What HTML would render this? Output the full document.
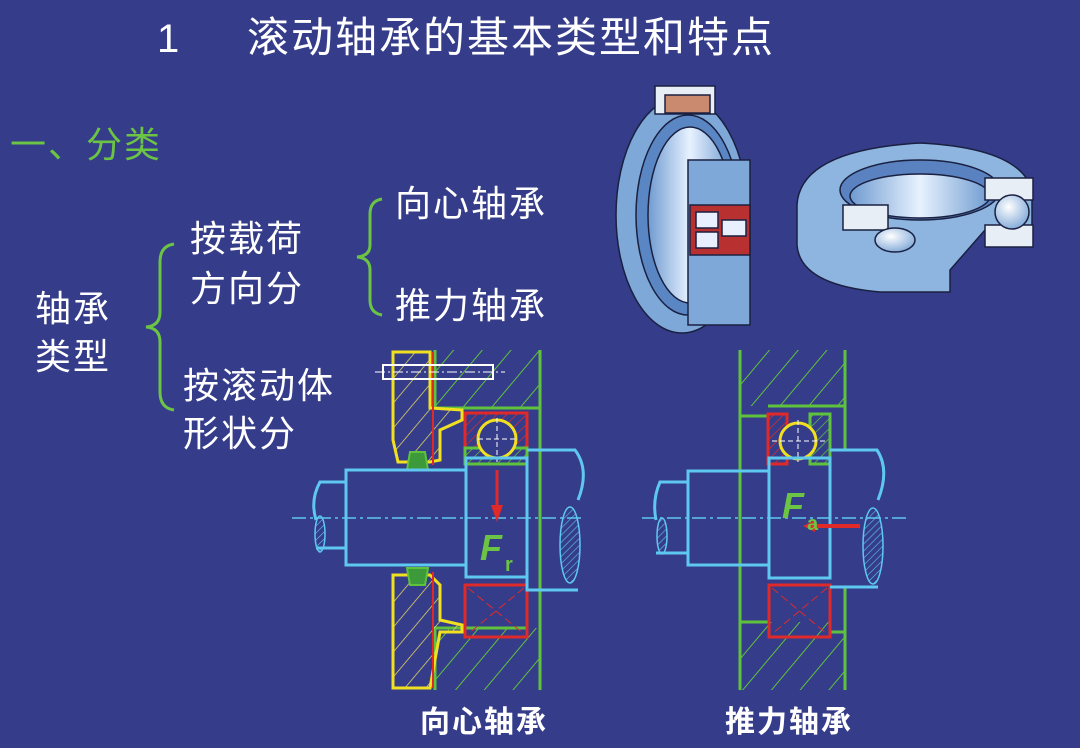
<!DOCTYPE html>
<html><head><meta charset="utf-8"><style>
html,body{margin:0;padding:0;}
body{width:1080px;height:748px;background:#353c8a;overflow:hidden;}
svg{display:block}
text{font-family:"Liberation Sans","Noto Sans CJK SC",sans-serif;}
</style></head><body>
<svg width="1080" height="748" viewBox="0 0 1080 748" xmlns="http://www.w3.org/2000/svg">
<defs>
<pattern id="hg" patternUnits="userSpaceOnUse" width="22" height="22" patternTransform="rotate(40)"><line x1="0" y1="0" x2="0" y2="22" stroke="#5ec23c" stroke-width="2"/></pattern>
<pattern id="hy" patternUnits="userSpaceOnUse" width="16" height="16" patternTransform="rotate(40)"><line x1="0" y1="0" x2="0" y2="16" stroke="#e6dc60" stroke-width="1.5"/></pattern>
<pattern id="hr" patternUnits="userSpaceOnUse" width="7" height="7" patternTransform="rotate(45)"><line x1="0" y1="0" x2="0" y2="7" stroke="#e02a2a" stroke-width="1.5"/></pattern>
<pattern id="hgs" patternUnits="userSpaceOnUse" width="7" height="7" patternTransform="rotate(45)"><line x1="0" y1="0" x2="0" y2="7" stroke="#5ec23c" stroke-width="1.5"/></pattern>
<pattern id="hb" patternUnits="userSpaceOnUse" width="5" height="5" patternTransform="rotate(45)"><line x1="0" y1="0" x2="0" y2="5" stroke="#5fc8f0" stroke-width="1.2"/></pattern>
<radialGradient id="ball" cx="0.4" cy="0.35" r="0.7"><stop offset="0" stop-color="#fff"/><stop offset="1" stop-color="#7fa8d8"/></radialGradient>
<linearGradient id="ring" x1="0" x2="1"><stop offset="0" stop-color="#6f9bd0"/><stop offset="0.5" stop-color="#e8f2ff"/><stop offset="1" stop-color="#6f9bd0"/></linearGradient>
</defs>

<text x="157" y="52" font-family="Liberation Serif" font-size="40" fill="#fff">1</text>
<text x="247" y="52" font-size="42" fill="#fff" letter-spacing="2">滚动轴承的基本类型和特点</text>
<text x="10" y="157" font-size="36" fill="#6cc444" letter-spacing="2">一、分类</text>

<g font-size="36" fill="#fff" letter-spacing="2">
<text x="190" y="251">按载荷</text>
<text x="190" y="301">方向分</text>
<text x="35" y="321">轴承</text>
<text x="35" y="369">类型</text>
<text x="183" y="398">按滚动体</text>
<text x="183" y="446">形状分</text>
<text x="395" y="216">向心轴承</text>
<text x="395" y="318">推力轴承</text>
</g>
<path d="M174 244 Q160 246 160 262 L160 312 Q160 326 146 327 Q160 328 160 342 L160 392 Q160 408 174 410" fill="none" stroke="#6cc444" stroke-width="3"/>
<path d="M382 199 Q370 201 370 214 L370 245 Q370 256 357 257 Q370 258 370 270 L370 300 Q370 313 382 315" fill="none" stroke="#6cc444" stroke-width="3"/>

<g stroke="#1a2040" stroke-width="1.5">
<ellipse cx="682" cy="215" rx="66" ry="118" fill="#7ea8d8"/>
<ellipse cx="688" cy="215" rx="52" ry="100" fill="#5b86c4"/>
<ellipse cx="690" cy="215" rx="42" ry="88" fill="url(#ring)"/>
<rect x="688" y="160" width="62" height="165" fill="#7ea8d8"/>
<rect x="690" y="205" width="60" height="50" fill="#b83030"/>
<rect x="696" y="212" width="22" height="16" fill="#e8f0ff"/>
<rect x="722" y="220" width="24" height="16" fill="#e8f0ff"/>
<rect x="696" y="232" width="22" height="16" fill="#e8f0ff"/>
<rect x="655" y="86" width="60" height="28" fill="#e8eef6"/>
<rect x="665" y="95" width="45" height="18" fill="#c98a70"/>
</g>
<g stroke="#1a2040" stroke-width="1.5">
<path d="M797 245 L797 205 Q800 150 920 143 Q1020 148 1032 190 L1032 230 L985 230 L950 270 L950 292 L880 292 Q800 285 797 245Z" fill="#8db5e0"/>
<ellipse cx="920" cy="190" rx="80" ry="30" fill="#5a82c0"/>
<ellipse cx="920" cy="196" rx="70" ry="22" fill="url(#ring)"/>
<rect x="985" y="178" width="48" height="22" fill="#e8eef6"/>
<rect x="985" y="225" width="48" height="22" fill="#e8eef6"/>
<circle cx="1012" cy="212" r="17" fill="url(#ball)"/>
<rect x="843" y="205" width="45" height="25" fill="#e8eef6"/>
<ellipse cx="895" cy="240" rx="20" ry="12" fill="url(#ball)"/>
</g>

<g fill="none">
<rect x="435" y="350" width="105" height="58" fill="url(#hg)"/>
<rect x="435" y="628" width="105" height="62" fill="url(#hg)"/>
<path d="M435 350 L435 408 L540 408 M540 350 L540 690 M435 690 L435 628 L527 628" stroke="#5ec23c" stroke-width="3"/>
<path d="M393 352 L430 352 L430 408 L462 410 L462 420 L440 430 L440 460 L430 462 L398 462 L393 440Z" fill="url(#hy)" stroke="#f0e020" stroke-width="3"/>
<path d="M393 575 L430 575 L440 585 L440 620 L462 625 L462 632 L440 632 L430 688 L393 688Z" fill="url(#hy)" stroke="#f0e020" stroke-width="3"/>
<path d="M433 352 L433 465 M433 572 L433 688" stroke="#e02a2a" stroke-width="2"/>
<path d="M410 452 L425 452 L428 470 L407 470Z" fill="#3c9a3a" stroke="#5ec23c" stroke-width="2"/>
<path d="M407 568 L428 568 L425 585 L410 585Z" fill="#3c9a3a" stroke="#5ec23c" stroke-width="2"/>
<rect x="383" y="365" width="110" height="14" stroke="#fff" stroke-width="2"/>
<line x1="375" y1="372" x2="505" y2="372" stroke="#fff" stroke-dasharray="10 3 2 3"/>
<rect x="465" y="413" width="62" height="35" fill="url(#hr)" stroke="#e02a2a" stroke-width="3"/>
<rect x="465" y="448" width="62" height="16" fill="url(#hgs)" stroke="#5ec23c" stroke-width="3"/>
<circle cx="497" cy="439" r="19" fill="#353c8a" stroke="#f0e020" stroke-width="3"/>
<path d="M478 439 L516 439 M497 418 L497 462" stroke="#fff" stroke-dasharray="5 3"/>
<rect x="465" y="585" width="62" height="52" stroke="#e02a2a" stroke-width="3"/>
<path d="M468 588 L524 634 M524 588 L468 634" stroke="#e02a2a" stroke-dasharray="8 4"/>
<path d="M345 482 L320 482 Q310 500 316 520 M316 548 L345 548" stroke="#5fc8f0" stroke-width="3"/>
<ellipse cx="320" cy="534" rx="5" ry="18" fill="url(#hb)" stroke="#5fc8f0" stroke-width="1.5"/>
<rect x="346" y="470" width="120" height="95" stroke="#5fc8f0" stroke-width="3"/>
<rect x="466" y="458" width="61" height="119" stroke="#5fc8f0" stroke-width="3"/>
<path d="M527 450 L575 450 Q590 470 578 500 M578 590 L527 590 L527 577" stroke="#5fc8f0" stroke-width="3"/>
<ellipse cx="570" cy="545" rx="10" ry="38" fill="url(#hb)" stroke="#5fc8f0" stroke-width="1.5"/>
<line x1="292" y1="518" x2="585" y2="518" stroke="#5fc8f0" stroke-width="1.5" stroke-dasharray="14 4 3 4"/>
<line x1="497" y1="470" x2="497" y2="510" stroke="#e02a2a" stroke-width="3"/>
<path d="M491 505 L503 505 L497 522Z" fill="#e02a2a"/>
</g>
<text x="480" y="560" font-family="Liberation Serif" font-style="italic" font-weight="bold" font-size="36" fill="#6cc444">F</text>
<text x="505" y="571" font-family="Liberation Serif" font-weight="bold" font-size="20" fill="#6cc444">r</text>

<g fill="none">
<rect x="740" y="350" width="105" height="56" fill="url(#hg)"/>
<rect x="740" y="622" width="105" height="68" fill="url(#hg)"/>
<path d="M740 350 L740 690 M845 350 L845 450 M768 406 L845 406 M740 416 L768 416 M845 587 L845 690 M740 622 L768 622 M830 632 L845 632 M769 578 L830 578" stroke="#5ec23c" stroke-width="3"/>
<rect x="768" y="414" width="19" height="50" fill="url(#hr)" stroke="#e02a2a" stroke-width="3"/>
<rect x="810" y="414" width="20" height="50" fill="url(#hgs)" stroke="#5ec23c" stroke-width="3"/>
<circle cx="798" cy="441" r="18" fill="#353c8a" stroke="#f0e020" stroke-width="3"/>
<path d="M772 441 L825 441 M798 420 L798 462" stroke="#fff" stroke-dasharray="5 3"/>
<rect x="769" y="585" width="61" height="52" stroke="#e02a2a" stroke-width="3"/>
<path d="M772 588 L827 634 M827 588 L772 634" stroke="#e02a2a" stroke-dasharray="8 4"/>
<path d="M687 482 L660 482 Q652 500 656 520 M656 553 L687 553" stroke="#5fc8f0" stroke-width="3"/>
<ellipse cx="662" cy="536" rx="5" ry="18" fill="url(#hb)" stroke="#5fc8f0" stroke-width="1.5"/>
<rect x="688" y="471" width="81" height="94" stroke="#5fc8f0" stroke-width="3"/>
<rect x="769" y="458" width="61" height="120" stroke="#5fc8f0" stroke-width="3"/>
<path d="M830 450 L877 450 Q890 470 878 500 M878 587 L830 587" stroke="#5fc8f0" stroke-width="3"/>
<ellipse cx="873" cy="546" rx="10" ry="38" fill="url(#hb)" stroke="#5fc8f0" stroke-width="1.5"/>
<line x1="642" y1="518" x2="910" y2="518" stroke="#5fc8f0" stroke-width="1.5" stroke-dasharray="14 4 3 4"/>
<line x1="810" y1="526" x2="860" y2="526" stroke="#e02a2a" stroke-width="4"/>
<path d="M815 520 L815 532 L803 526Z" fill="#e02a2a"/>
</g>
<text x="782" y="518" font-family="Liberation Serif" font-style="italic" font-weight="bold" font-size="36" fill="#6cc444">F</text>
<text x="807" y="530" font-family="Liberation Serif" font-weight="bold" font-size="20" fill="#6cc444">a</text>

<text x="420" y="732" font-size="30" font-weight="bold" fill="#fff" letter-spacing="2">向心轴承</text>
<text x="725" y="732" font-size="30" font-weight="bold" fill="#fff" letter-spacing="2">推力轴承</text>
</svg>
</body></html>
